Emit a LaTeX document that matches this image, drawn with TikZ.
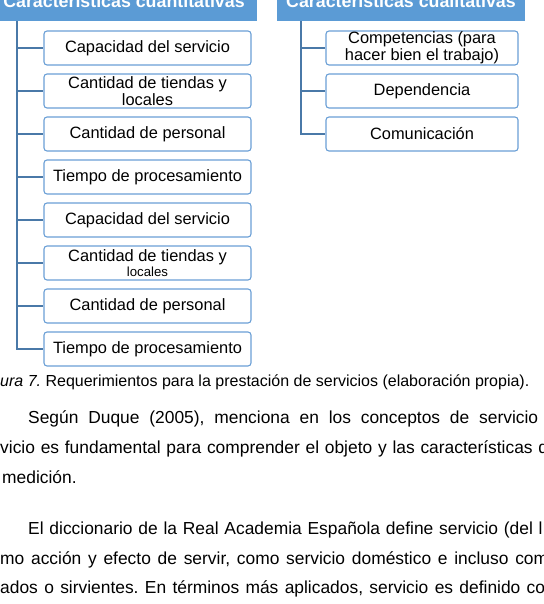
\documentclass[tikz,border=0pt]{standalone}
\usepackage{fontspec}
\setmainfont{Liberation Sans}
\usepackage{tikz}
\usepackage{xcolor}
\definecolor{headblue}{HTML}{5B9BD5}
\definecolor{itemblue}{HTML}{6A9FD6}
\definecolor{linkblue}{HTML}{4A79A8}
\frenchspacing
\tikzset{
  head/.style={fill=headblue, text=white, inner sep=0pt, minimum height=39pt, text height=12.7pt, text depth=0pt, font=\bfseries\fontsize{17.8}{20}\selectfont},
  item/.style={draw=itemblue, fill=white, line width=1.1pt, rounded corners=3pt, inner sep=0pt, minimum height=34pt, align=center, font=\fontsize{16.4}{16.8}\selectfont},
  link/.style={draw=linkblue, line width=1.6pt},
  body/.style={anchor=base west, inner sep=0pt, font=\fontsize{17.4}{19}\selectfont},
  capt/.style={anchor=base west, inner sep=0pt, font=\fontsize{16}{19}\selectfont}
}

\begin{document}
\begin{tikzpicture}[x=1pt,y=1pt]
\useasboundingbox (0,0) rectangle (543,-604);
\clip (0,0) rectangle (543,-604);
\fill[white] (0,0) rectangle (543,-604);
\node[head, minimum width=266pt] (qhead) at (124,-1.65) {Características cuantitativas};
\node[head, minimum width=248pt] (lhead) at (401,-1.65) {Características cualitativas};
\node[item, minimum width=207pt] (q1) at (147.5,-48) {Capacidad del servicio};
\node[item, minimum width=207pt] (q2) at (147.5,-91) {Cantidad de tiendas y\\locales};
\node[item, minimum width=207pt] (q3) at (147.5,-134) {Cantidad de personal};
\node[item, minimum width=207pt] (q4) at (147.5,-177) {Tiempo de procesamiento};
\node[item, minimum width=207pt] (q5) at (147.5,-220) {Capacidad del servicio};
\node[item, minimum width=207pt] (q6) at (147.5,-263) {Cantidad de tiendas y\\[-1.5pt]{\fontsize{13.2}{14}\selectfont locales}};
\node[item, minimum width=207pt] (q7) at (147.5,-306) {Cantidad de personal};
\node[item, minimum width=207pt] (q8) at (147.5,-349) {Tiempo de procesamiento};
\node[item, minimum width=192pt] (l1) at (422,-48) {Competencias (para\\hacer bien el trabajo)};
\node[item, minimum width=192pt] (l2) at (422,-91) {Dependencia};
\node[item, minimum width=192pt] (l3) at (422,-134) {Comunicación};
\draw[link] ([xshift=26pt]qhead.south west) |- (q1.west);
\draw[link] ([xshift=26pt]qhead.south west) |- (q2.west);
\draw[link] ([xshift=26pt]qhead.south west) |- (q3.west);
\draw[link] ([xshift=26pt]qhead.south west) |- (q4.west);
\draw[link] ([xshift=26pt]qhead.south west) |- (q5.west);
\draw[link] ([xshift=26pt]qhead.south west) |- (q6.west);
\draw[link] ([xshift=26pt]qhead.south west) |- (q7.west);
\draw[link] ([xshift=26pt]qhead.south west) |- (q8.west);
\draw[link] ([xshift=24pt]lhead.south west) |- (l1.west);
\draw[link] ([xshift=24pt]lhead.south west) |- (l2.west);
\draw[link] ([xshift=24pt]lhead.south west) |- (l3.west);
\node[capt] (caption) at (0,-386) {\textit{ura 7.} Requerimientos para la prestación de servicios (elaboración propia).};
\node[body] (duque1) at (28,-423) {\makebox[510pt][s]{Según Duque (2005), menciona en los conceptos de servicio}};
\node[body] (duque2) at (0,-453) {\makebox[548pt][s]{vicio es fundamental para comprender el objeto y las características d}};
\node[body] (duque3) at (2,-483) {medición.};
\node[body] (rae1) at (28,-534) {\makebox[514.5pt][s]{El diccionario de la Real Academia Española define servicio (del l}};
\node[body] (rae2) at (0,-564) {\makebox[548pt][s]{mo acción y efecto de servir, como servicio doméstico e incluso com}};
\node[body] (rae3) at (0,-593) {\makebox[545pt][s]{ados o sirvientes. En términos más aplicados, servicio es definido co}};
\end{tikzpicture}
\end{document}
